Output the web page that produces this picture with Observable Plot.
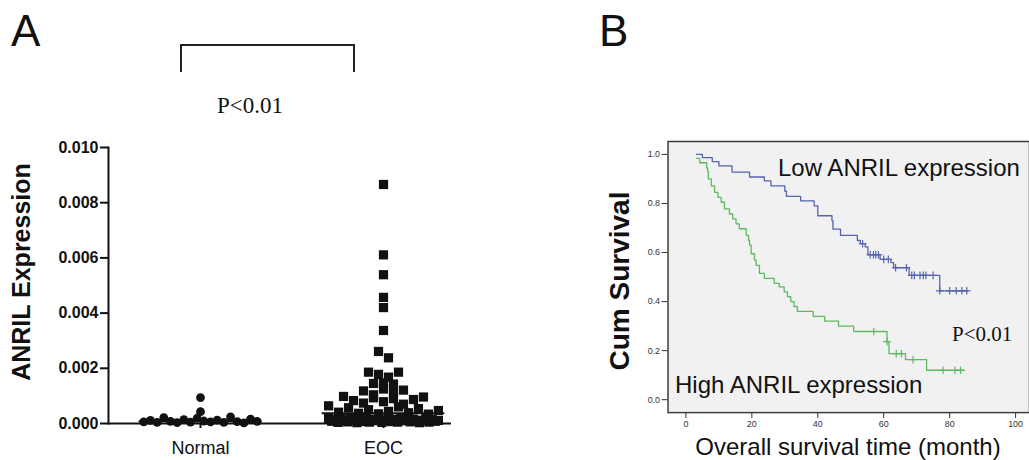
<!DOCTYPE html>
<html>
<head>
<meta charset="utf-8">
<script src="https://cdn.jsdelivr.net/npm/d3@7"></script>
<script src="https://cdn.jsdelivr.net/npm/@observablehq/plot@0.6"></script>
<style>
  html, body { margin: 0; padding: 0; background: #fff; }
  #fig { position: relative; width: 1029px; height: 460px; overflow: hidden; background: #fff;
         font-family: "Liberation Sans", Arial, sans-serif; color: #111; }
  #fig .abs { position: absolute; white-space: nowrap; line-height: 1em; }
  #panelA, #panelB { position: absolute; top: 0; }
  #panelA { left: 0; }
  #panelB { left: 600px; }
  #panelA g[aria-label="y-axis tick label"] text { font-weight: bold; }
  .rot { transform: translate(-50%, -50%) rotate(-90deg); font-weight: bold; }
  .serif { font-family: "Liberation Serif", "Times New Roman", serif; }
</style>
</head>
<body>
<div id="fig">
  <div id="panelA"></div>
  <div id="panelB"></div>
  <div class="abs" style="left:11px; top:9px; font-size:44px;">A</div>
  <div class="abs" style="left:599px; top:9px; font-size:44px;">B</div>
  <div class="abs" style="left:180px; top:44px; width:175px; height:28px; box-sizing:border-box; border:2px solid #222; border-bottom:none;"></div>
  <div class="abs serif" style="left:150px; width:200px; text-align:center; top:94px; font-size:23px;">P&lt;0.01</div>
  <div class="abs rot" style="left:21px; top:272px; font-size:25px;">ANRIL Expression</div>
  <div class="abs rot" style="left:620px; top:281px; font-size:28px;">Cum Survival</div>
  <div class="abs" style="left:778px; top:156px; font-size:24px;">Low ANRIL expression</div>
  <div class="abs" style="left:675px; top:373px; font-size:24px;">High ANRIL expression</div>
  <div class="abs serif" style="left:952px; top:324px; font-size:21px;">P&lt;0.01</div>
  <div class="abs" style="left:848px; top:435px; font-size:24px; transform:translateX(-50%);">Overall survival time (month)</div>
</div>
<script>
// ---------- Panel A data ----------
const groups = ["Normal", "EOC"];
const normalValues = [0.00006, 0.00011, 0.00004, 0.00021, 0.00008, 0.00003, 0.00014, 0.00005, 0.00043, 0.00019,
                      0.00009, 0.00006, 0.00094, 0.00012, 0.00004, 0.00024, 0.00007, 0.00002, 0.00016, 0.00008];
const eocValues = [0.00866, 0.00611, 0.00539, 0.00457, 0.00420, 0.00337, 0.00261, 0.00238,
                   0.00186, 0.00178, 0.00168, 0.00186,
                   0.00145, 0.00147, 0.00143,
                   0.00118, 0.00104, 0.00125, 0.00112, 0.00121,
                   0.00098, 0.00083, 0.00074, 0.00093, 0.00079, 0.00090, 0.00070, 0.00087, 0.00096,
                   0.00064, 0.00041, 0.00057, 0.00037, 0.00050, 0.00035, 0.00044, 0.00060, 0.00039, 0.00054, 0.00034, 0.00047,
                   0.00018, 0.00008, 0.00014, 0.00004, 0.00020, 0.00011, 0.00006, 0.00022, 0.00013, 0.00003,
                   0.00016, 0.00007, 0.00019, 0.00005, 0.00015, 0.00010, 0.00021, 0.00004, 0.00012, 0.00017,
                   0.00007, 0.00015, 0.00005, 0.00019, 0.00010, 0.00013, 0.00006, 0.00016, 0.00009, 0.00003,
                   0.00012, 0.00018, 0.00005, 0.00014, 0.00008, 0.00011];
const yTicksA = [0, 0.002, 0.004, 0.006, 0.008, 0.010];

// ---------- Panel B data ----------
const lowTime = [3.2, 5, 8, 10, 14, 19.3, 23.8, 25.8, 30, 30.5, 34.8, 38.9, 40, 44.3, 44.6, 46.9, 52, 52.9,
                 54.4, 55.2, 58.9, 62.2, 63, 67.7, 77, 85.5];
const lowSurv = [1.0, 0.987, 0.971, 0.953, 0.928, 0.908, 0.892, 0.872, 0.85, 0.829, 0.811, 0.79, 0.75, 0.73,
                 0.695, 0.67, 0.649, 0.636, 0.623, 0.591, 0.572, 0.559, 0.538, 0.507, 0.444, 0.444];
const lowCensorTime = [53.6, 55.9, 56.9, 57.6, 58.4, 60, 61.4, 63.6, 66.9, 68.5, 69.3, 71, 72, 72.8, 75,
                       77, 80, 82, 83.7, 85.2];
const highTime = [3.2, 4.2, 6.3, 6.6, 6.8, 7.7, 8.7, 9.7, 10.7, 11.7, 13.2, 14.2, 15.2, 16.2, 18.3, 19.0, 19.3,
                  19.8, 20.8, 21.3, 22.3, 23.8, 26.8, 28.3, 29.8, 30.8, 31.8, 32.8, 33.8, 38.6, 42.1, 46.3,
                  50.9, 61, 61.6, 66.6, 73, 84.5];
const highSurv = [0.984, 0.966, 0.945, 0.93, 0.9, 0.872, 0.845, 0.825, 0.805, 0.778, 0.757, 0.737, 0.717, 0.697,
                  0.67, 0.65, 0.63, 0.595, 0.569, 0.548, 0.515, 0.495, 0.474, 0.46, 0.44, 0.42, 0.4, 0.38, 0.36,
                  0.34, 0.32, 0.3, 0.278, 0.237, 0.188, 0.163, 0.12, 0.12];
const highCensorTime = [57, 61, 63.8, 65.4, 68.9, 78, 81.6, 83.3];
const xTicksB = [0, 20, 40, 60, 80, 100];
const yTicksB = [0, 0.2, 0.4, 0.6, 0.8, 1.0];

// ---------- column-scatter layout (rows of nearby values spread side by side) ----------
const BIN = 0.00033, STEP = 0.0546, HALF_NORMAL = 0.31, HALF_EOC = 0.30, MEDIAN_HALF = 0.335;
function columnScatter(values, pos, group, maxHalf) {
  const bins = d3.group(values, v => Math.floor(v / BIN));
  const out = [];
  for (const vs of bins.values()) {
    const n = vs.length;
    const s = n > 1 ? Math.min(STEP, 2 * maxHalf / (n - 1)) : 0;
    vs.forEach((v, i) => out.push({group, pos, x: pos + (i - (n - 1) / 2) * s, value: v}));
  }
  return out;
}
const normalPts = columnScatter(normalValues, 1, "Normal", HALF_NORMAL);
const eocPts = columnScatter(eocValues, 2, "EOC", HALF_EOC);
const medians = [
  {pos: 1, median: d3.median(normalValues)},
  {pos: 2, median: d3.median(eocValues)}
];

const toSteps = (T, S) => T.map((t, i) => ({t, s: S[i]}));
const survAt = (T, S, t) => { let s = S[0]; for (let i = 0; i < T.length; i++) if (T[i] <= t) s = S[i]; return s; };
const lowData = toSteps(lowTime, lowSurv);
const highData = toSteps(highTime, highSurv);
const lowCensors = lowCensorTime.map(t => ({t, s: survAt(lowTime, lowSurv, t)}));
const highCensors = highCensorTime.map(t => ({t, s: survAt(highTime, highSurv, t)}));

const blue = "#5664ae";
const green = "#5dba62";

// ---------- Panel A ----------
const plotA = Plot.plot({
  width: 520, height: 460,
  marginLeft: 108, marginRight: 69, marginTop: 147, marginBottom: 37,
  style: {fontFamily: "Liberation Sans, Arial, sans-serif", color: "#111", background: "transparent", overflow: "visible"},
  x: {domain: [0.4973, 2.3716]},
  y: {domain: [0, 0.010]},
  marks: [
    Plot.ruleY(medians, {y: "median", x1: d => d.pos - MEDIAN_HALF, x2: d => d.pos + MEDIAN_HALF, strokeWidth: 2, stroke: "#111"}),
    Plot.dot(normalPts, {x: "x", y: "value", r: 4.4, fill: "#111"}),
    Plot.dot(eocPts, {x: "x", y: "value", r: 5.2, symbol: "square", fill: "#111"}),
    Plot.frame({anchor: "left", strokeWidth: 2, stroke: "#111"}),
    Plot.ruleY([0], {strokeWidth: 2, stroke: "#111"}),
    Plot.axisY({ticks: yTicksA, tickFormat: ".3f", tickSize: 8, tickPadding: 2, fontSize: 16, fontWeight: "bold", strokeWidth: 2, label: null}),
    Plot.axisX({ticks: [1, 2], tickFormat: d => groups[d - 1], tickSize: 5, tickPadding: 13, fontSize: 18, strokeWidth: 2, label: null})
  ]
});
document.getElementById("panelA").appendChild(plotA);

// ---------- Panel B ----------
const plotB = Plot.plot({
  width: 432, height: 460,
  marginLeft: 68, marginRight: 0, marginTop: 142, marginBottom: 45,
  style: {fontFamily: "Liberation Sans, Arial, sans-serif", color: "#333", background: "transparent", overflow: "visible"},
  x: {domain: [0, 100], range: [86, 418]},
  y: {domain: [0, 1], range: [402, 155]},
  marks: [
    Plot.frame({fill: "#f1f1f1", stroke: "none"}),
    Plot.line(lowData, {x: "t", y: "s", curve: "step-after", stroke: blue, strokeWidth: 1.3}),
    Plot.line(highData, {x: "t", y: "s", curve: "step-after", stroke: green, strokeWidth: 1.3}),
    Plot.dot(lowCensors, {x: "t", y: "s", symbol: "plus", r: 2.6, stroke: blue, strokeWidth: 1.2}),
    Plot.dot(highCensors, {x: "t", y: "s", symbol: "plus", r: 2.6, stroke: green, strokeWidth: 1.2}),
    Plot.frame({stroke: "#3c3c3c", strokeWidth: 1.5}),
    Plot.axisY({ticks: yTicksB, tickFormat: ".1f", tickSize: 6, tickPadding: 2, fontSize: 9, label: null}),
    Plot.axisX({ticks: xTicksB, tickSize: 6, tickPadding: 2, fontSize: 9, label: null})
  ]
});
document.getElementById("panelB").appendChild(plotB);
</script>
</body>
</html>
